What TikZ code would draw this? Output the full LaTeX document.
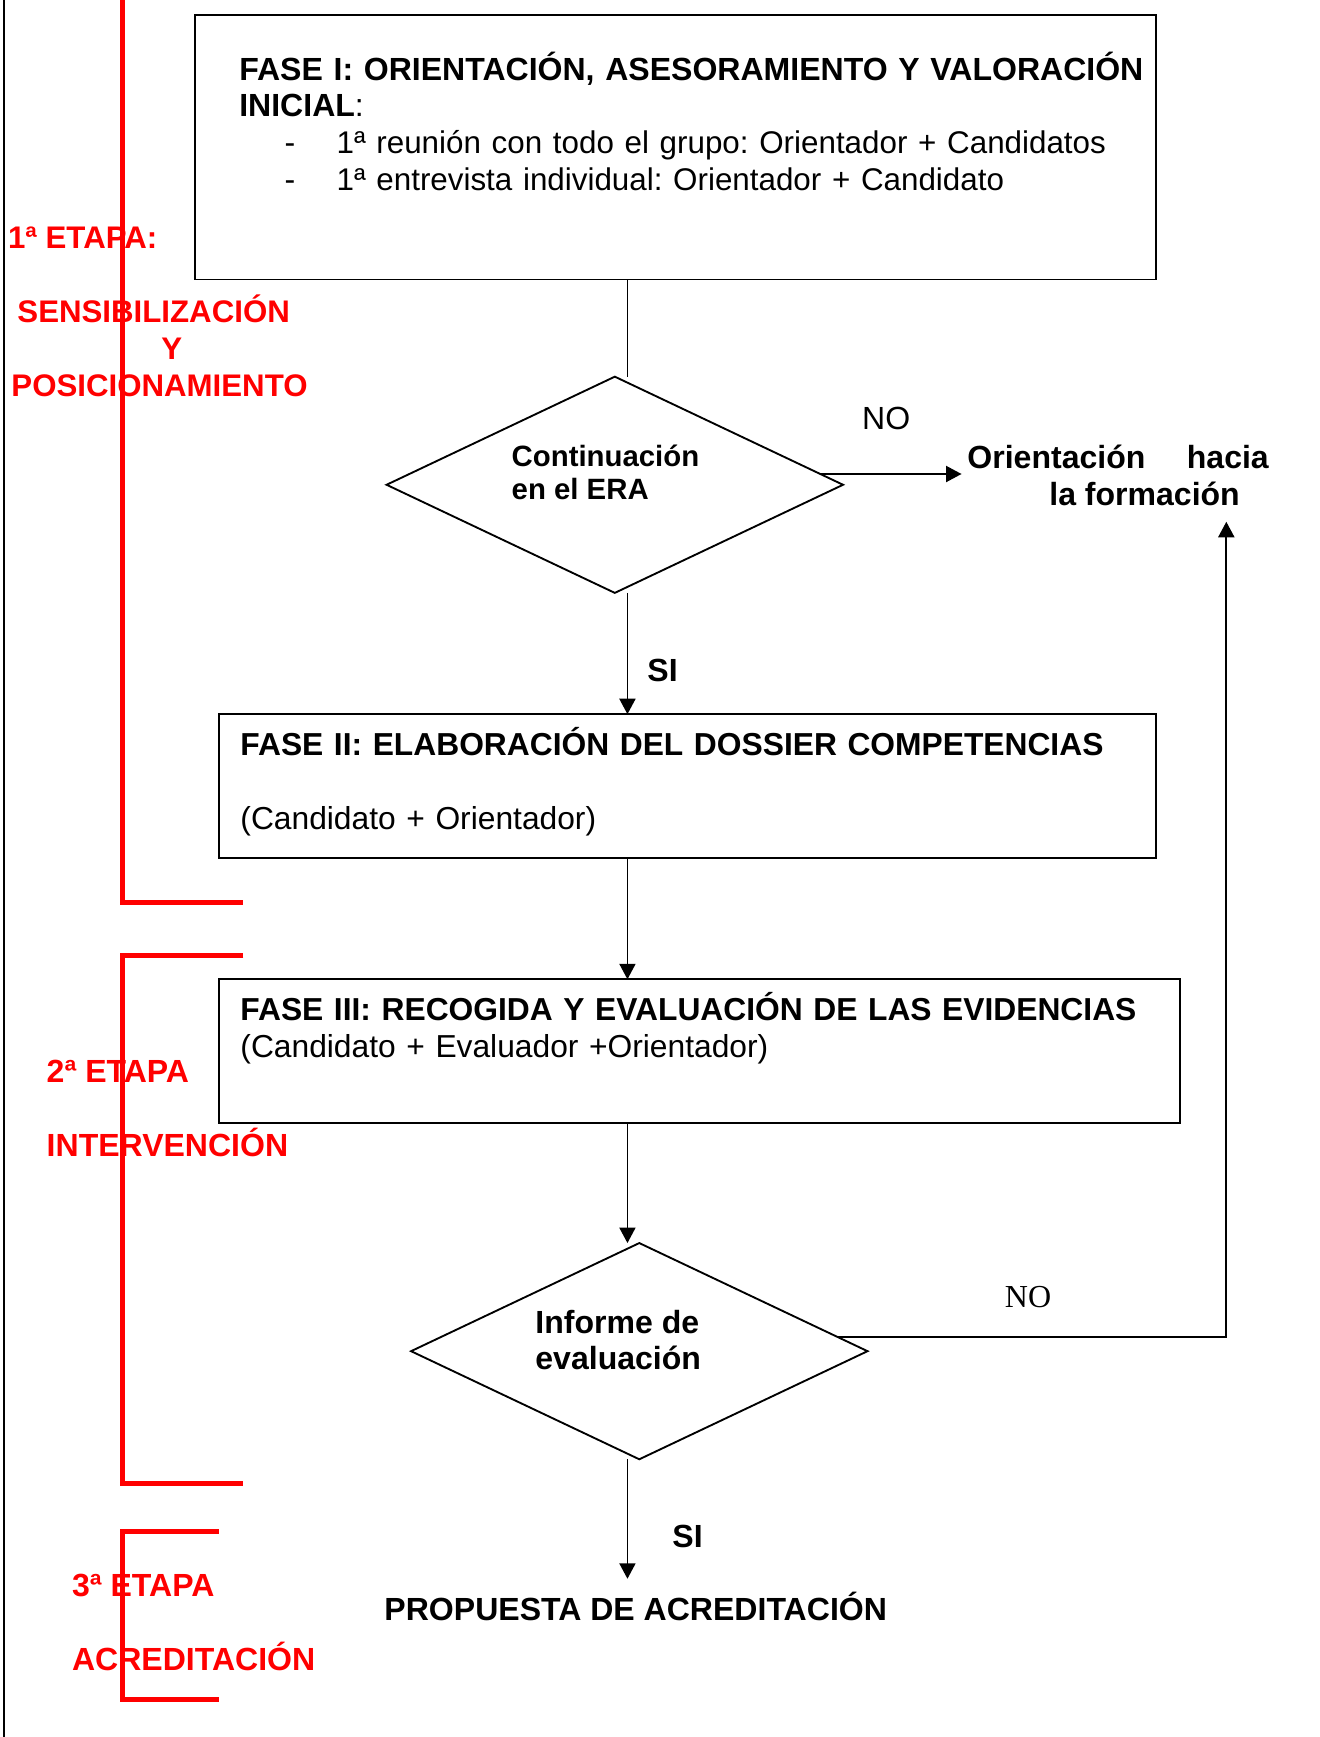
\documentclass[tikz,border=0pt]{standalone}
\usepackage{fontspec}
\setmainfont{Liberation Sans}
\newfontfamily\timesfont{Liberation Serif}
\usetikzlibrary{shapes.geometric,arrows.meta}
\frenchspacing

\begin{document}
\begin{tikzpicture}[x=0.415pt,y=-0.415pt,
  fase/.style={draw,line width=0.7pt,anchor=north west,align=left,inner ysep=0pt,outer sep=0pt,
    font=\fontsize{11.9pt}{13.8pt}\selectfont},
  decision/.style={draw,line width=0.7pt,shape=diamond,minimum width=171pt,minimum height=81pt,
    inner sep=0pt,outer sep=0pt},
  pregunta/.style={align=left,font=\bfseries\fontsize{12pt}{13.3pt}\selectfont},
  flecha/.style={line width=0.7pt,-{Triangle[length=5.8pt,width=6pt]}},
  linea/.style={line width=0.7pt},
  etapa/.style={text=red,inner sep=0pt,font=\bfseries\fontsize{12pt}{13.9pt}\selectfont},
  llave/.style={red,line width=1.9pt},
  rotulo/.style={inner sep=0pt,anchor=base,font=\fontsize{12pt}{14pt}\selectfont}]
\useasboundingbox (0,0) rectangle (1191,1568);

\draw[line width=0.8pt] (3.3,0) -- (3.3,1568);

\draw[llave] (110.5,0) -- (110.5,815) -- (219.6,815);
\draw[llave] (219.6,862.3) -- (110.5,862.3) -- (110.5,1339) -- (219.6,1339);
\draw[llave] (197.6,1382.4) -- (110.5,1382.4) -- (110.5,1534) -- (197.6,1534);

\node[etapa,anchor=base west,font=\bfseries\fontsize{11.7pt}{13.9pt}\selectfont] (E1) at (6.8,224) {1ª ETAPA:};
\node[etapa,anchor=base,align=center,font=\bfseries\fontsize{11.7pt}{13.9pt}\selectfont] (E1b) at (144,358.2)
  {\hspace*{-4.4pt}SENSIBILIZACIÓN\\\hspace*{9.1pt}Y\\POSICIONAMIENTO};
\node[etapa,anchor=base west,align=left] (E2) at (41.7,1044) {2ª ETAPA\\[13.9pt]INTERVENCIÓN};
\node[etapa,anchor=base west,align=left] (E3) at (64.6,1508.3) {3ª ETAPA\\[13.9pt]ACREDITACIÓN};

\node[fase,font=\fontsize{12pt}{13.8pt}\selectfont,inner xsep=2pt,text width=356.1pt,text height=24.4pt,text depth=74.7pt] (F1) at (176,13.5)
  {\hspace*{14.6pt}\textbf{FASE I: ORIENTACIÓN, ASESORAMIENTO Y VALORACIÓN}\\
   \hspace*{14.6pt}\textbf{INICIAL}:\\
   \hspace*{31.6pt}\makebox[19.5pt][l]{-}{\fontsize{11.75pt}{13.8pt}\selectfont 1ª reunión con todo el grupo: Orientador + Candidatos}\\
   \hspace*{31.6pt}\makebox[19.5pt][l]{-}{\fontsize{11.75pt}{13.8pt}\selectfont 1ª entrevista individual: Orientador + Candidato}};
\node[decision,label={[pregunta,font=\bfseries\fontsize{11pt}{12.4pt}\selectfont,xshift=-3.5pt,yshift=4.8pt]center:{Continuación\\en el ERA}}] (D1) at (555,437.6) {};
\node[inner xsep=2pt,inner ysep=0pt,anchor=base west,align=left,font=\bfseries\fontsize{12pt}{13.7pt}\selectfont] (OF) at (868,456)
  {\makebox[112.9pt][s]{Orientación hacia}\\\hspace*{30.7pt}la formación};
\node[fase,inner xsep=7.9pt,text width=335.2pt,text height=15.6pt,text depth=38.4pt] (F2) at (198,644.7)
  {\textbf{FASE II: ELABORACIÓN DEL DOSSIER COMPETENCIAS}\\[13.8pt](Candidato + Orientador)};
\node[fase,inner xsep=7.9pt,text width=344pt,text height=15.4pt,text depth=38.4pt] (F3) at (198,884)
  {\textbf{FASE III: RECOGIDA Y EVALUACIÓN DE LAS EVIDENCIAS}\\(Candidato + Evaluador +Orientador)};
\node[decision,label={[pregunta,xshift=-7.9pt,yshift=4.2pt]center:{Informe de\\evaluación}}] (D2) at (577.1,1219.7) {};
\node[rotulo,anchor=base west,text height=8.6pt,inner ysep=6.9pt,font=\bfseries\fontsize{12pt}{14pt}\selectfont] (PA) at (346.6,1463)
  {PROPUESTA DE ACREDITACIÓN};

\node[rotulo] (N1) at (800,388) {NO};
\node[rotulo,font=\timesfont\fontsize{12pt}{14pt}\selectfont] (N2) at (928,1180) {NO};
\node[rotulo,anchor=base west,font=\bfseries\fontsize{12pt}{14pt}\selectfont] (S1) at (584,615.5) {SI};
\node[rotulo,anchor=base west,font=\bfseries\fontsize{12pt}{14pt}\selectfont] (S2) at (606.5,1397) {SI};

\coordinate (TR) at (566.4,0);
\coordinate (RF) at (1107,471);

\draw[linea] (F1.south -| TR) -- (D1.north -| TR);
\draw[flecha] (D1.south -| TR) -- (F2.north -| TR);
\draw[flecha] (F2.south -| TR) -- (F3.north -| TR);
\draw[flecha] (F3.south -| TR) -- (D2.north -| TR);
\draw[flecha] (D2.south -| TR) -- (PA.north -| TR);
\draw[flecha] (D1.3) -- (D1.3 -| OF.west);
\draw[flecha] (D2.4) -| (RF);
\end{tikzpicture}
\end{document}
